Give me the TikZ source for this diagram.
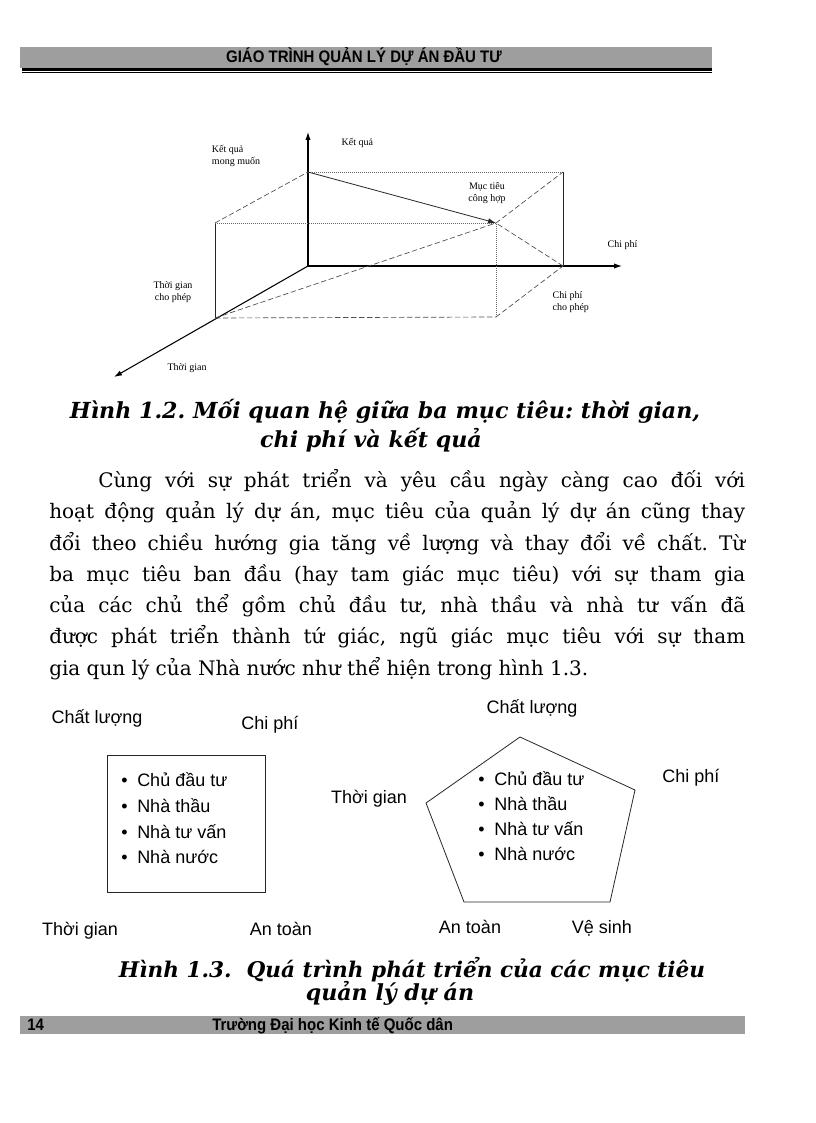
\documentclass[tikz,border=0pt]{standalone}
\usepackage{fontspec}
\setmainfont{DejaVu Serif}
\setsansfont{Liberation Sans}
\newfontfamily\figfont{Liberation Serif}
\usetikzlibrary{positioning,arrows.meta,calc}

\newcommand{\goalbullet}{\makebox[12pt][l]{\textbullet}}

\begin{document}
\frenchspacing
\begin{tikzpicture}[
    x=0.75pt, y=-0.75pt,
    >={Latex[length=6pt,width=4pt]},
    band/.style={fill=black!38},
    axisline/.style={->, line width=0.8pt},
    boxline/.style={black!85, line width=0.6pt},
    guide/.style={black!70, dashed, dash pattern=on 4pt off 2pt, line width=0.5pt},
    dotguide/.style={black!60, densely dotted, line width=0.5pt},
    smalllabel/.style={font=\figfont\fontsize{7.5}{8.5}\selectfont, inner sep=1pt, align=center},
    headtext/.style={font=\sffamily\bfseries\fontsize{12.5}{14}\selectfont, inner sep=0pt},
    captext/.style={font=\bfseries\itshape\fontsize{16.6}{20}\selectfont, inner sep=0pt, anchor=base},
    bodyline/.style={font=\fontsize{15}{18}\selectfont, inner sep=0pt, anchor=base west},
    goal/.style={font=\sffamily\fontsize{13.5}{16}\selectfont, inner sep=0pt, anchor=base},
    listitem/.style={goal, anchor=base west},
]
\useasboundingbox (0,0) rectangle (816,1123);

% ---- Header ----
\fill[band] (20,47) rectangle (712,68);
\draw[line width=1.6pt] (22,69.5) -- (712,69.5);
\draw[line width=0.6pt] (22,72.5) -- (712,72.5);
\node[headtext, anchor=base] (head) at (364,63) {\scalebox{0.9}[1]{GIÁO TRÌNH QUẢN LÝ DỰ ÁN ĐẦU TƯ}};

% ---- Figure 1.2: three goals ----
\coordinate (orig) at (308,266);
\coordinate (ytip) at (308,132);
\coordinate (xtip) at (622,266);
\coordinate (ztip) at (114,377);
\coordinate (tallow) at (215,318);
\coordinate (kwant) at (308,172);
\coordinate (callow) at (563,266);
\coordinate (target) at (496,223);
\coordinate (tup) at (215,223);
\coordinate (kright) at (563,172);
\coordinate (tright) at (496,317);

\draw[axisline] (orig) -- (ytip);
\draw[axisline] (orig) -- (xtip);
\draw[axisline] (orig) -- (ztip);

% box
\draw[boxline] (tallow) -- (tup);
\draw[guide] (tup) -- (kwant);
\draw[dotguide] (kwant) -- (kright);
\draw[boxline] (kright) -- (callow);
\draw[dotguide] (tup) -- (target);
\draw[guide] (tallow) -- (tright);
\draw[dotguide] (tright) -- (target);
\draw[guide] (tright) -- (callow);
\draw[guide] (target) -- (kright);

% lines into the common goal
\draw[boxline, ->] (kwant) -- (target);
\draw[guide] (tallow) -- (target);
\draw[guide] (callow) -- (target);

\node[smalllabel, anchor=west] (lblres) at (340,143) {Kết quả};
\node[smalllabel, align=left] (lblwant) at (236,156) {Kết quả\\mong muốn};
\node[smalllabel] (lbltarget) at (487,193) {Mục tiêu\\công hợp};
\node[smalllabel, anchor=west] (lblcost) at (606,245) {Chi phí};
\node[smalllabel, align=left, anchor=west] (lblcallow) at (551,302) {Chi phí\\cho phép};
\node[smalllabel] (lbltallow) at (173,292) {Thời gian\\cho phép};
\node[smalllabel, anchor=west] (lbltime) at (166,368) {Thời gian};

% ---- Caption 1.2 ----
\node[captext] (cap2a) at (385,418) {Hình 1.2. Mối quan hệ giữa ba mục tiêu: thời gian,};
\node[captext] (cap2b) at (371,447) {chi phí và kết quả};

% ---- Paragraph ----
\node[bodyline] (body1) at (98,487) {\makebox[485pt][s]{Cùng với sự phát triển và yêu cầu ngày càng cao đối với}};
\node[bodyline] (body2) at (49,518) {\makebox[522pt][s]{hoạt động quản lý dự án, mục tiêu của quản lý dự án cũng thay}};
\node[bodyline] (body3) at (49,550) {\makebox[522pt][s]{đổi theo chiều hướng gia tăng về lượng và thay đổi về chất. Từ}};
\node[bodyline] (body4) at (49,581) {\makebox[522pt][s]{ba mục tiêu ban đầu (hay tam giác mục tiêu) với sự tham gia}};
\node[bodyline] (body5) at (49,612) {\makebox[522pt][s]{của các chủ thể gồm chủ đầu tư, nhà thầu và nhà tư vấn đã}};
\node[bodyline] (body6) at (49,643) {\makebox[522pt][s]{được phát triển thành tứ giác, ngũ giác mục tiêu với sự tham}};
\node[bodyline] (body7) at (49,675) {gia qun lý của Nhà nước như thể hiện trong hình 1.3.};

% ---- Figure 1.3: square ----
\node[goal] (sqqual) at (97,723) {Chất lượng};
\node[goal] (sqcost) at (270,729) {Chi phí};
\node[goal] (sqtime) at (369,803) {Thời gian};
\node[goal] (sqtime2) at (80,935) {Thời gian};
\node[goal] (sqsafe) at (281,935) {An toàn};
\coordinate (sqnw) at (107,755);
\coordinate (sqse) at (265,892);
\draw[boxline] (sqnw) rectangle (sqse);
\node[listitem] (sq1) at (121,786) {\goalbullet Chủ đầu tư};
\node[listitem] (sq2) at (121,812) {\goalbullet Nhà thầu};
\node[listitem] (sq3) at (121,838) {\goalbullet Nhà tư vấn};
\node[listitem] (sq4) at (121,863) {\goalbullet Nhà nước};

% ---- Figure 1.3: pentagon ----
\coordinate (ptop) at (520,737);
\coordinate (pright) at (635,790);
\coordinate (pbr) at (610,902);
\coordinate (pbl) at (464,902);
\coordinate (pleft) at (426,803);
\draw[boxline] (ptop) -- (pright) -- (pbr) -- (pbl) -- (pleft) -- cycle;
\node[goal] (pqual) at (532,713) {Chất lượng};
\node[goal] (pcost) at (691,782) {Chi phí};
\node[goal] (psafe) at (470,933) {An toàn};
\node[goal] (pclean) at (602,933) {Vệ sinh};
\node[listitem] (pe1) at (478,785) {\goalbullet Chủ đầu tư};
\node[listitem] (pe2) at (478,810) {\goalbullet Nhà thầu};
\node[listitem] (pe3) at (478,835) {\goalbullet Nhà tư vấn};
\node[listitem] (pe4) at (478,860) {\goalbullet Nhà nước};

% ---- Caption 1.3 ----
\node[captext, font=\bfseries\itshape\fontsize{16.2}{20}\selectfont] (cap3a) at (412,977) {Hình 1.3.\ \ Quá trình phát triển của các mục tiêu};
\node[captext] (cap3b) at (390,1000) {quản lý dự án};

% ---- Footer ----
\fill[band] (20,1016) rectangle (745,1034);
\node[headtext, anchor=base west] (page) at (27,1030) {\scalebox{0.9}[1]{14}};
\node[headtext, anchor=base west] (school) at (212,1030) {\scalebox{0.9}[1]{Trường Đại học Kinh tế Quốc dân}};

\end{tikzpicture}
\end{document}
